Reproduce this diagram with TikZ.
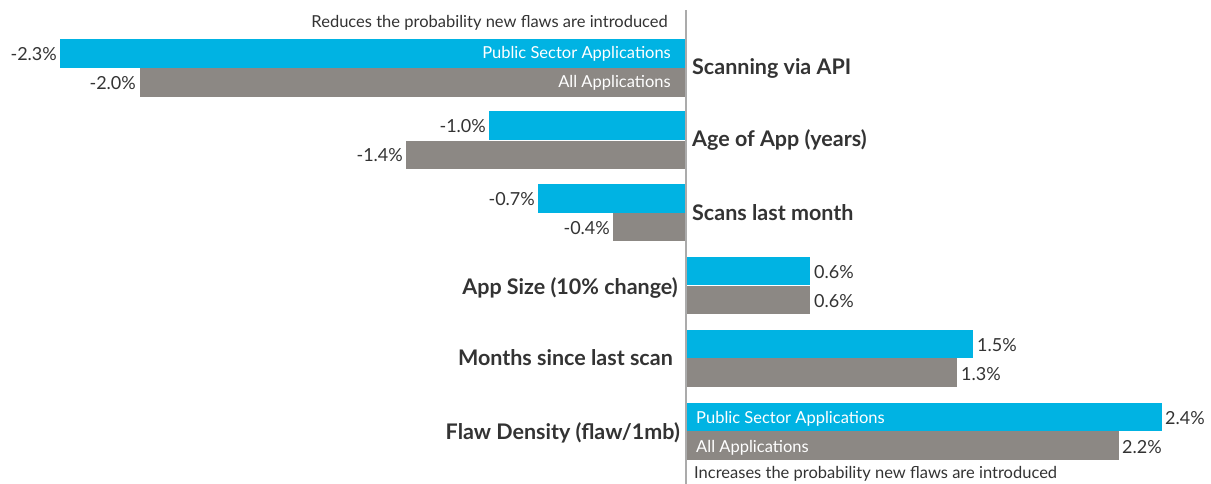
\documentclass[tikz,border=0pt]{standalone}
\usepackage{fontspec}
\setmainfont{Lato}
\definecolor{pubblue}{HTML}{00B3E3}
\definecolor{allgray}{HTML}{8C8884}
\definecolor{ink}{HTML}{333333}
\definecolor{axisgray}{HTML}{ABABAB}
\begin{document}
\begin{tikzpicture}[x=1pt,y=-1pt,
  pubbar/.style={fill=pubblue},
  allbar/.style={fill=allgray},
  val/.style={inner sep=0pt,text=ink,font=\fontsize{18}{21}\selectfont},
  inlbl/.style={inner sep=0pt,text=white,font=\fontsize{16.5}{19}\selectfont},
  catlbl/.style={inner sep=0pt,text=ink,font=\bfseries\fontsize{21.5}{25}\selectfont},
  note/.style={inner sep=0pt,text=ink,font=\fontsize{16.5}{19}\selectfont}]
\useasboundingbox (0,0) rectangle (1211,484);

% bars: public sector (blue) above, all applications (gray) below
\fill[pubbar] (60,39)   rectangle (686,68);
\fill[allbar] (140,68)  rectangle (686,97);
\fill[pubbar] (489,111) rectangle (686,140);
\fill[allbar] (406,141) rectangle (686,169);
\fill[pubbar] (538,184) rectangle (686,213);
\fill[allbar] (613,213) rectangle (686,241);
\fill[pubbar] (686,257) rectangle (810,285);
\fill[allbar] (686,286) rectangle (810,314);
\fill[pubbar] (686,330) rectangle (973,358);
\fill[allbar] (686,358) rectangle (957,387);
\fill[pubbar] (686,403) rectangle (1162,431);
\fill[allbar] (686,431) rectangle (1119,460);

% zero axis
\draw[axisgray,line width=1.2pt] (686,10) -- (686,484);

% direction notes
\node[note,anchor=base east] (reduces) at (668,28) {Reduces the probability new flaws are introduced};
\node[note,anchor=base west] (increases) at (694,478) {Increases the probability new flaws are introduced};

% legend labels inside the first and last groups
\node[inlbl,anchor=base east] (lgpub1) at (671,59) {Public Sector Applications};
\node[inlbl,anchor=base east] (lgall1) at (671,88) {All Applications};
\node[inlbl,anchor=base west] (lgpub6) at (696,423) {Public Sector Applications};
\node[inlbl,anchor=base west] (lgall6) at (696,452) {All Applications};

% category labels
\node[catlbl,anchor=base west] (c1) at (692,75) {Scanning via API};
\node[catlbl,anchor=base west] (c2) at (692,147) {Age of App (years)};
\node[catlbl,anchor=base west] (c3) at (692,220) {Scans last month};
\node[catlbl,anchor=base east] (c4) at (678,294) {App Size (10\% change)};
\node[catlbl,anchor=base east] (c5) at (673,365) {Months since last scan};
\node[catlbl,anchor=base east] (c6) at (680,439) {Flaw Density (flaw/1mb)};

% value labels
\node[val,anchor=base east] (v1a) at (57,61)  {-2.3\%};
\node[val,anchor=base east] (v1b) at (136,90) {-2.0\%};
\node[val,anchor=base east] (v2a) at (486,133) {-1.0\%};
\node[val,anchor=base east] (v2b) at (403,162) {-1.4\%};
\node[val,anchor=base east] (v3a) at (535,205) {-0.7\%};
\node[val,anchor=base east] (v3b) at (610,234) {-0.4\%};
\node[val,anchor=base west] (v4a) at (814,278) {0.6\%};
\node[val,anchor=base west] (v4b) at (814,307) {0.6\%};
\node[val,anchor=base west] (v5a) at (977,351) {1.5\%};
\node[val,anchor=base west] (v5b) at (961,380) {1.3\%};
\node[val,anchor=base west] (v6a) at (1165,424) {2.4\%};
\node[val,anchor=base west] (v6b) at (1122,453) {2.2\%};
\end{tikzpicture}
\end{document}
